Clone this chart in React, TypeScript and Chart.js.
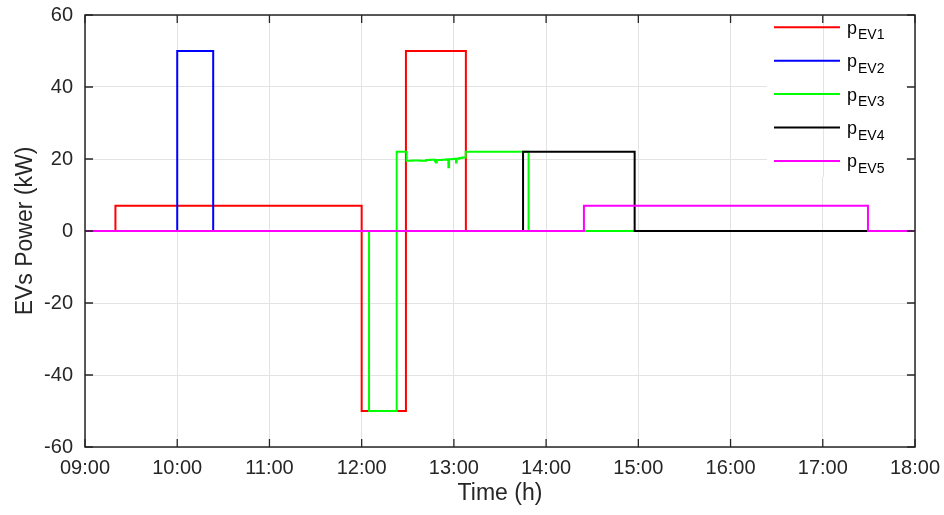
import React, { useEffect, useRef } from 'react';
import { Chart, registerables } from 'chart.js';

Chart.register(...registerables);

// ---- data (time in hours of day, power in kW) ----
const xTickLabels = ['09:00', '10:00', '11:00', '12:00', '13:00', '14:00', '15:00', '16:00', '17:00', '18:00'];
const yTickValues = [-60, -40, -20, 0, 20, 40, 60];
const seriesNames = ['EV1', 'EV2', 'EV3', 'EV4', 'EV5'];
const seriesColors = ['#ff0000', '#0000ff', '#00ff00', '#000000', '#ff00ff'];

const ev1Time = [9, 9.33, 12.0, 12.48, 13.13, 18];
const ev1Power = [0, 7, -50, 50, 0, 0];

const ev2Time = [9, 10.0, 10.39, 18];
const ev2Power = [0, 50, 0, 0];

const ev3Time = [9, 12.08, 12.38, 12.488, 12.55, 12.63, 12.7, 12.74, 12.795, 12.806, 12.815, 12.87, 12.92, 12.94, 12.948, 12.98, 13.012, 13.023, 13.03, 13.06, 13.09, 13.128, 13.81, 18];
const ev3Power = [0, -50, 22, 19.5, 19.6, 19.5, 19.7, 19.8, 19.4, 19.0, 19.7, 19.8, 19.9, 17.7, 19.9, 20.0, 20.1, 19.0, 20.1, 20.3, 20.4, 22, 0, 0];

const ev4Time = [9, 13.75, 14.96, 18];
const ev4Power = [0, 22, 0, 0];

const ev5Time = [9, 14.41, 17.49, 18];
const ev5Power = [0, 7, 0, 0];

const seriesTimes = [ev1Time, ev2Time, ev3Time, ev4Time, ev5Time];
const seriesPowers = [ev1Power, ev2Power, ev3Power, ev4Power, ev5Power];

const AXIS_COLOR = '#262626';
const GRID_COLOR = '#e3e3e3';
const FONT = 'Arial, "Liberation Sans", Helvetica, sans-serif';

const framePlugin = {
  id: 'matlabFrame',
  afterDraw(chart: any) {
    const { ctx, chartArea } = chart;
    const xs = chart.scales.x;
    const ys = chart.scales.y;
    const { left, right, top, bottom } = chartArea;

    // legend box
    const lx0 = 767, lx1 = 906, ly0 = top + 1, ly1 = 177;
    ctx.save();
    ctx.fillStyle = '#ffffff';
    ctx.fillRect(lx0, ly0, lx1 - lx0, ly1 - ly0);
    // vertical grid lines visible through legend
    ctx.strokeStyle = GRID_COLOR;
    ctx.lineWidth = 1;
    for (let i = 0; i < xTickLabels.length; i++) {
      const px = Math.round(xs.getPixelForValue(9 + i)) + 0.5;
      if (px > lx0 && px < lx1) {
        ctx.beginPath();
        ctx.moveTo(px, ly0);
        ctx.lineTo(px, ly1);
        ctx.stroke();
      }
    }
    // legend entries
    const rowH = 33.4;
    const firstY = 27.3;
    for (let i = 0; i < seriesNames.length; i++) {
      const cy = firstY + i * rowH;
      ctx.strokeStyle = seriesColors[i];
      ctx.lineWidth = 2;
      ctx.beginPath();
      ctx.moveTo(774, cy);
      ctx.lineTo(840, cy);
      ctx.stroke();
      ctx.fillStyle = '#000000';
      ctx.textAlign = 'left';
      ctx.textBaseline = 'alphabetic';
      ctx.font = `18px ${FONT}`;
      ctx.fillText('p', 847, cy + 6.5);
      ctx.font = `14px ${FONT}`;
      ctx.fillText(seriesNames[i], 858, cy + 12);
    }

    // frame
    ctx.strokeStyle = AXIS_COLOR;
    ctx.lineWidth = 1.5;
    ctx.strokeRect(left, top, right - left, bottom - top);

    // inward ticks
    const tl = 8;
    ctx.lineWidth = 1.3;
    ctx.beginPath();
    for (let i = 0; i < xTickLabels.length; i++) {
      const px = xs.getPixelForValue(9 + i);
      ctx.moveTo(px, bottom);
      ctx.lineTo(px, bottom - tl);
      ctx.moveTo(px, top);
      ctx.lineTo(px, top + tl);
    }
    for (const v of yTickValues) {
      const py = ys.getPixelForValue(v);
      ctx.moveTo(left, py);
      ctx.lineTo(left + tl, py);
      ctx.moveTo(right, py);
      ctx.lineTo(right - tl, py);
    }
    ctx.stroke();
    ctx.restore();
  },
};

export default function App() {
  const canvasRef = useRef<HTMLCanvasElement | null>(null);

  useEffect(() => {
    if (!canvasRef.current) return;
    const datasets = seriesNames.map((name, i) => ({
      label: 'p' + name,
      data: seriesTimes[i].map((t, k) => ({ x: t, y: seriesPowers[i][k] })),
      borderColor: seriesColors[i],
      backgroundColor: seriesColors[i],
      borderWidth: 2,
      pointRadius: 0,
      stepped: 'before' as const,
      fill: false,
      order: seriesNames.length - i,
    }));

    const chart = new Chart(canvasRef.current, {
      type: 'line',
      data: { datasets },
      options: {
        animation: false,
        responsive: false,
        maintainAspectRatio: false,
        layout: { padding: { left: 0, right: 29, top: 15, bottom: 0 } },
        plugins: {
          legend: { display: false },
          tooltip: { enabled: false },
        },
        scales: {
          x: {
            type: 'linear',
            min: 9,
            max: 18,
            afterFit: (s: any) => {
              s.height = 68;
              s.paddingLeft = 0;
              s.paddingRight = 0;
            },
            afterBuildTicks: (s: any) => {
              s.ticks = xTickLabels.map((_, i) => ({ value: 9 + i }));
            },
            ticks: {
              padding: 9,
              color: '#262626',
              font: { family: FONT, size: 20 },
              maxRotation: 0,
              autoSkip: false,
              callback: (v: any) => xTickLabels[Math.round(Number(v) - 9)],
            },
            grid: { color: GRID_COLOR, drawTicks: false, lineWidth: 1 },
            border: { display: false },
            title: {
              display: true,
              text: 'Time (h)',
              color: '#262626',
              font: { family: FONT, size: 23 },
              padding: { top: 0, bottom: 8 },
            },
          },
          y: {
            type: 'linear',
            min: -60,
            max: 60,
            afterFit: (s: any) => {
              s.width = 85;
              s.paddingTop = 0;
              s.paddingBottom = 0;
            },
            afterBuildTicks: (s: any) => {
              s.ticks = yTickValues.map((v) => ({ value: v }));
            },
            ticks: {
              padding: 12,
              color: '#262626',
              font: { family: FONT, size: 20 },
              autoSkip: false,
            },
            grid: { color: GRID_COLOR, drawTicks: false, lineWidth: 1 },
            border: { display: false },
            title: {
              display: true,
              text: 'EVs Power (kW)',
              color: '#262626',
              font: { family: FONT, size: 23 },
              padding: { top: 12, bottom: 0 },
            },
          },
        },
      },
      plugins: [framePlugin],
    });
    return () => chart.destroy();
  }, []);

  return (
    <canvas
      ref={canvasRef}
      width={944}
      height={515}
      style={{ position: 'absolute', left: 0, top: 0, width: 944, height: 515, background: '#ffffff' }}
    />
  );
}
